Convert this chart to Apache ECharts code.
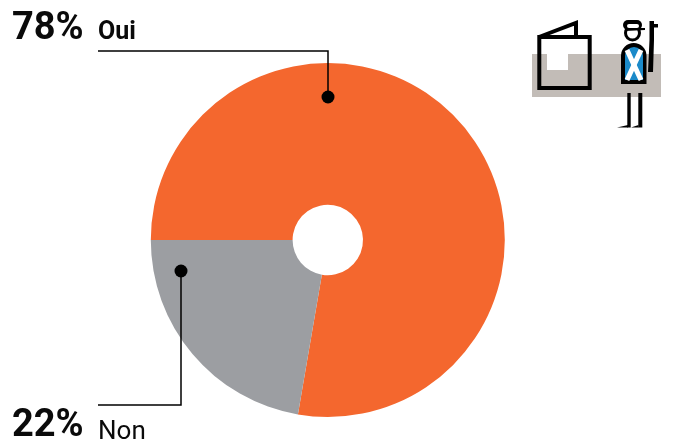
<!DOCTYPE html>
<html><head><meta charset="utf-8">
<style>html,body{margin:0;padding:0;background:#fff}#c{width:675px;height:441px}</style>
<script src="https://cdn.jsdelivr.net/npm/echarts@6/dist/echarts.min.js"></script>
</head><body><div id="c"></div>
<script>
const categories = ['Oui', 'Non'];
const values = [77.7, 22.3];
const colors = ['#F4672E', '#9C9EA2'];
const percentLabels = ['78%', '22%'];

const chart = echarts.init(document.getElementById('c'), null, {renderer:'canvas'});
const K = '#000';
const line = (pts, w, z) => ({type:'polyline', shape:{points:pts}, style:{stroke:K, lineWidth:w, fill:null}, z:z||10});
const poly = (pts, fill, z) => ({type:'polygon', shape:{points:pts}, style:{fill}, z:z||8});
const txt = (x,y,t,size,weight) => ({type:'text', x, y, z:10, style:{text:t, fill:'#0a0a0a', font:`${weight} ${size}px Roboto, sans-serif`, verticalAlign:'middle'}});
chart.setOption({
  animation:false,
  backgroundColor:'#fff',
  series:[{
    type:'pie', center:[327.8,240], radius:[35.2,177], startAngle:180, clockwise:true,
    label:{show:false}, labelLine:{show:false}, silent:true,
    itemStyle:{borderWidth:0},
    data:categories.map((name,i)=>({name,value:values[i],itemStyle:{color:colors[i]}}))
  }],
  graphic:[
    txt(12,29.5,percentLabels[0],38,700),
    txt(98,32.5,categories[0],25,700),
    txt(12,426,percentLabels[1],38,700),
    txt(98,432.5,categories[1],26,400),
    line([[98,51],[328,51],[328,97]],1.5),
    {type:'circle',shape:{cx:328,cy:97,r:6.5},style:{fill:K},z:10},
    line([[98,405],[181,405],[181,271]],1.5),
    {type:'circle',shape:{cx:181,cy:271,r:6.5},style:{fill:K},z:10},
    // icon
    {type:'rect',shape:{x:532,y:54,width:129,height:43},style:{fill:'#C2BCB7'},z:5},
    {type:'rect',shape:{x:547,y:54,width:21,height:16},style:{fill:'#fff'},z:6},
    {type:'rect',shape:{x:539.3,y:37,width:50.4,height:51},style:{stroke:K,lineWidth:4,fill:null},z:7},
    line([[539,37],[576,23],[576,37]],4),
    // head and cap
    {type:'circle',shape:{cx:632.5,cy:33,r:7},style:{stroke:K,lineWidth:3,fill:'#fff'},z:7},
    {type:'rect',shape:{x:623,y:20,width:19,height:10,r:5},style:{fill:K},z:8},
    {type:'rect',shape:{x:627,y:24,width:12,height:4,r:2},style:{fill:'#fff'},z:8},
    poly([[625,28],[645,28],[645,30],[625,31]],K),
    // body
    {type:'rect',shape:{x:621,y:43,width:25.5,height:41,r:[12.7,12.7,0,0]},style:{fill:K},z:7},
    {type:'rect',shape:{x:625,y:47,width:18,height:33,r:[9,9,0,0]},style:{fill:'#1B8AC9'},z:8},
    {type:'polyline',shape:{points:[[627,50],[641,80]]},style:{stroke:'#fff',lineWidth:5,fill:null},z:9},
    {type:'polyline',shape:{points:[[641,50],[627,80]]},style:{stroke:'#fff',lineWidth:5,fill:null},z:9},
    // rifle
    poly([[649.5,21],[654,21],[654,40],[653,72],[648,72],[649.5,40]],K),
    {type:'rect',shape:{x:650,y:24,width:8,height:3.5},style:{fill:K},z:8},
    // legs
    {type:'rect',shape:{x:627.3,y:93,width:3.4,height:34.5},style:{fill:K},z:8},
    {type:'rect',shape:{x:638.3,y:93,width:4,height:34.5},style:{fill:K},z:8},
    poly([[617,127.5],[628,125],[628,127.5]],K),
    poly([[631,127.5],[638.5,125],[638.5,127.5]],K)
  ]
});
</script></body></html>
